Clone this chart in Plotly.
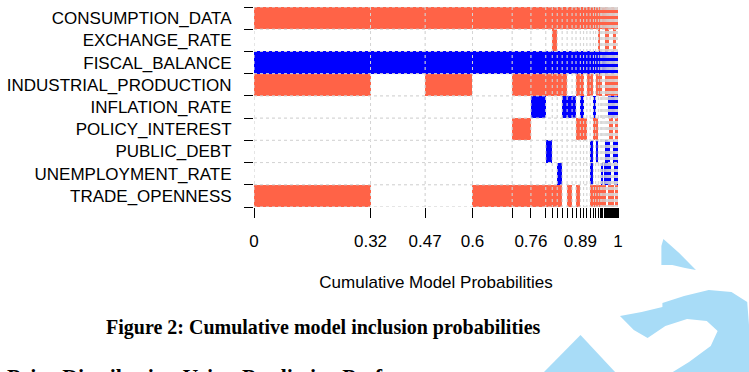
import plotly.graph_objects as go

variables = ["CONSUMPTION_DATA", "EXCHANGE_RATE", "FISCAL_BALANCE", "INDUSTRIAL_PRODUCTION",
             "INFLATION_RATE", "POLICY_INTEREST", "PUBLIC_DEBT", "UNEMPLOYMENT_RATE", "TRADE_OPENNESS"]

model_probs = [0.32, 0.15, 0.13, 0.109, 0.0515, 0.0407, 0.0179, 0.0136, 0.0136, 0.0136,
               0.0136, 0.0108, 0.0119, 0.0089, 0.0089, 0.0092, 0.0089, 0.0062, 0.0073, 0.0054,
               0.0036, 0.0034, 0.0032, 0.0031, 0.0030, 0.0029, 0.0028, 0.0028, 0.0027, 0.0026,
               0.0025, 0.0025, 0.0024, 0.0023, 0.0023, 0.0022, 0.0022, 0.0021]

# sign of coefficient in each model: 1 positive, -1 negative, 0 not included
consumption = [1] * 38
exchange = [0, 0, 0, 0, 0, 0, 0, 1, 0, 0, 0, 0, 0, 0, 0, 0, 0, 0, 0, 1,
            0, 0, 0, 0, 1, 0, 1, 0, 0, 0, 0, 0, 1, 0, 1, 0, 0, 0]
fiscal = [-1] * 38
industrial = [1, 0, 1, 0, 1, 1, 1, 1, 1, 1, 0, 0, 1, 1, 0, 1, 1, 0, 1, 1,
              1, 0, 0, 0, 1, 1, 1, 1, 1, 1, 0, 1, 1, 1, 1, 1, 1, 1]
inflation = [0, 0, 0, 0, 0, -1, 0, 0, 0, -1, -1, -1, 0, -1, 0, 0, 0, -1, 0, 0,
             0, 0, 0, 0, 0, 0, 0, -1, 0, -1, 0, -1, 0, 0, -1, -1, 0, -1]
policy = [0, 0, 0, 0, 1, 0, 0, 0, 0, 0, 0, 0, 1, 1, 1, 0, 0, 1, 1, 0,
          0, 0, 0, 0, 0, 0, 0, 0, 1, 1, 1, 0, 0, 0, 0, 1, 1, 1]
public_debt = [0, 0, 0, 0, 0, 0, -1, 0, 0, 0, 0, 0, 0, 0, 0, 0, -1, 0, -1, 0,
               0, 0, 0, 0, -1, -1, 0, -1, 0, 0, 0, 0, -1, -1, 0, -1, 0, -1]
unemployment = [0, 0, 0, 0, 0, 0, 0, 0, -1, 0, 0, 0, 0, 0, 0, 0, -1, 0, 0, 0,
                0, -1, 0, -1, 0, -1, -1, 0, -1, 0, 0, 0, 0, 0, -1, 0, -1, 0]
trade = [1, 0, 0, 1, 1, 1, 1, 1, 1, 0, 1, 0, 1, 0, 0, 0, 1, 1, 1, 1,
         1, 1, 1, 1, 0, 0, 0, 1, 1, 1, 1, 1, 0, 0, 0, 1, 1, 1]

tick_labels = ["0", "0.32", "0.47", "0.6", "0.76", "0.89", "1"]
tick_model_counts = [0, 1, 2, 3, 5, 13, 38]

caption = "Figure 2: Cumulative model inclusion probabilities"
next_heading = "Prior Distribution Using Predictive Pref"

rows = [consumption, exchange, fiscal, industrial, inflation, policy, public_debt, unemployment, trade]

# cumulative boundaries
edges = [0.0]
for p in model_probs:
    edges.append(edges[-1] + p)
total = edges[-1]

RED = "#FF6347"
BLUE = "#0000FF"

# dotted cell borders
lx, ly = [], []
for e in edges:
    lx += [e, e, None]
    ly += [-0.5, len(variables) - 0.5, None]
for k in range(len(variables) + 1):
    lx += [0, total, None]
    ly += [k - 0.5, k - 0.5, None]

fig = go.Figure()
fig.add_trace(go.Scatter(x=lx, y=ly, mode="lines",
                         line=dict(color="rgba(195,195,195,1)", width=1, dash="dot"),
                         hoverinfo="skip", showlegend=False))

for sign, color in ((1, RED), (-1, BLUE)):
    bx, by, bbase = [], [], []
    for r, row in enumerate(rows):
        for m, v in enumerate(row):
            if v == sign:
                bx.append(model_probs[m])
                by.append(r)
                bbase.append(edges[m])
    fig.add_trace(go.Bar(x=bx, y=by, base=bbase, orientation="h", width=1.0,
                         marker=dict(color=color, line=dict(width=0)),
                         hoverinfo="skip", showlegend=False))

fig.add_trace(go.Scatter(x=lx, y=ly, mode="lines",
                         line=dict(color="rgba(255,255,255,0.3)", width=1, dash="dot"),
                         hoverinfo="skip", showlegend=False))

W, H = 749, 372
L, R, T, B = 249, 131, 7, 165
PW, PH = W - L - R, H - T - B


def px(x):
    return (x - L) / PW


def py(y):
    return (T + PH - y) / PH


def path(pts):
    return "M " + " L ".join(f"{px(a):.4f},{py(b):.4f}" for a, b in pts) + " Z"


WM = "rgb(168,220,247)"
wedge = [(664, 239), (680, 253), (697, 270), (686, 268), (673, 265), (662, 265), (662, 246)]
tri = [(543, 372), (580, 335), (615, 372)]
band = [(620, 316), (642, 312), (663, 307), (663, 303), (685, 296), (710, 290), (733, 292),
        (749, 302), (752, 340), (752, 376), (667, 376), (690, 362), (712, 346), (719, 331),
        (708, 321), (688, 319), (666, 326), (648, 338), (634, 330)]
shapes = []
for poly in (wedge, tri, band):
    shapes.append(dict(type="path", xref="paper", yref="paper", path=path(poly),
                       fillcolor=WM, line=dict(width=0), layer="above"))

font = "Liberation Sans, Arial, sans-serif"
serif = "Liberation Serif, Times New Roman, serif"

fig.update_layout(
    width=W, height=H,
    margin=dict(l=L, r=R, t=T, b=B),
    paper_bgcolor="white", plot_bgcolor="white",
    showlegend=False, barmode="overlay", bargap=0,
    font=dict(family=font, size=17, color="black"),
    shapes=shapes,
    annotations=[
        dict(text=f"<b>{caption}</b>",
             xref="paper", yref="paper", x=px(97), y=py(327), xanchor="left", yanchor="middle",
             showarrow=False, font=dict(family=serif, size=20, color="black")),
        dict(text=f"<b>{next_heading}</b>",
             xref="paper", yref="paper", x=px(-3), y=py(376), xanchor="left", yanchor="middle",
             showarrow=False, font=dict(family=serif, size=22, color="black")),
    ],
)

fig.update_xaxes(
    range=[0, total], showgrid=False, zeroline=False, showline=False,
    tickmode="array", tickvals=[edges[i] for i in tick_model_counts], ticktext=tick_labels,
    ticks="outside", ticklen=10, tickwidth=1, tickcolor="black",
    ticklabelstandoff=9,
    tickfont=dict(family=font, size=17),
    minor=dict(tickmode="array", tickvals=edges, ticks="outside", ticklen=10, tickwidth=1,
               tickcolor="black", showgrid=False),
    title=dict(text="Cumulative Model Probabilities", standoff=25,
               font=dict(family=font, size=17)),
)
fig.update_yaxes(
    range=[len(variables) - 0.5, -0.5], showgrid=False, zeroline=False, showline=False,
    tickmode="array", tickvals=list(range(len(variables))), ticktext=variables,
    ticks="outside", ticklen=9, tickcolor="rgba(0,0,0,0)",
    ticklabelstandoff=9,
    tickfont=dict(family=font, size=17),
    minor=dict(tickmode="array", tickvals=[k - 0.5 for k in range(len(variables) + 1)],
               ticks="outside", ticklen=9, tickwidth=1, tickcolor="black", showgrid=False),
)

fig.write_html("out.html")
